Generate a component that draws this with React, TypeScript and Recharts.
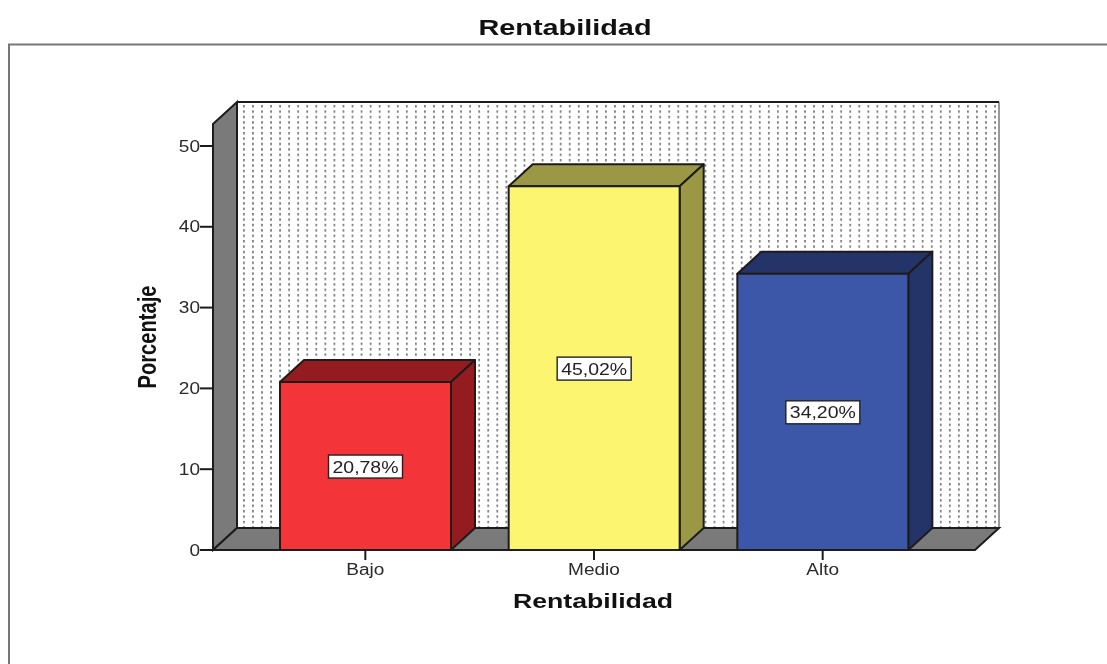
import React from "react";
import {
  BarChart,
  Bar,
  XAxis,
  YAxis,
  LabelList,
  Customized,
  usePlotArea,
} from "recharts";

const categories = ["Bajo", "Medio", "Alto"];
const percentages = [20.78, 45.02, 34.2];
const frontColors = ["#F33539", "#FBF56F", "#3C56A8"];
const sideColors = ["#941C20", "#9B9845", "#243468"];
const yTicks = [0, 10, 20, 30, 40, 50];

const data = categories.map((name, i) => ({
  name,
  value: percentages[i],
  front: frontColors[i],
  side: sideColors[i],
}));

// depth of the fake 3D box
const DX = 24;
const DY = 22;
const LINE = "#1c1c1c";
const FONT = "'Liberation Sans', Arial, sans-serif";
const STRETCH = 1.19; // the source image is stretched sideways

const Walls = () => {
  const plot = usePlotArea();
  if (!plot) return null;
  const left = plot.x;
  const right = plot.x + plot.width;
  const top = plot.y;
  const bottom = plot.y + plot.height;
  return (
    <g>
      <defs>
        <pattern id="dots" x="243" y="105" width="9.05" height="5.4" patternUnits="userSpaceOnUse">
          <rect x="0" y="0" width="1.8" height="2.4" fill="#808080" />
        </pattern>
      </defs>
      <path d="M9 664V44.5H1107" fill="none" stroke="#777" strokeWidth={2} />
      <rect x={left + DX} y={top - DY} width={right - left} height={bottom - top} fill="#fff" />
      <rect x={left + DX} y={top - DY} width={right - left} height={bottom - top} fill="url(#dots)" />
      <path
        d={`M${right + DX} ${top - DY}V${bottom - DY}`}
        stroke="#777"
        strokeWidth={1.5}
        fill="none"
      />
      <path
        d={`M${left} ${top}L${left + DX} ${top - DY}V${bottom - DY}L${left} ${bottom}Z`}
        fill="#7a7a7a"
        stroke={LINE}
        strokeWidth={2}
      />
      <path
        d={`M${left} ${bottom}L${left + DX} ${bottom - DY}H${right + DX}L${right} ${bottom}Z`}
        fill="#7a7a7a"
        stroke={LINE}
        strokeWidth={2}
      />
      <path d={`M${left + DX} ${top - DY}H${right + DX}`} stroke={LINE} strokeWidth={2} fill="none" />
    </g>
  );
};

const Box = (props: any) => {
  const { x, y, width, height, payload } = props;
  const r = x + width;
  const b = y + height;
  return (
    <g stroke={LINE} strokeWidth={2} strokeLinejoin="round">
      <path d={`M${x} ${y}L${x + DX} ${y - DY}H${r + DX}L${r} ${y}Z`} fill={payload.side} />
      <path d={`M${r} ${y}L${r + DX} ${y - DY}V${b - DY}L${r} ${b}Z`} fill={payload.side} />
      <rect x={x} y={y} width={width} height={height} fill={payload.front} />
    </g>
  );
};

const ValueTag = (props: any) => {
  const { x, y, width, height, value } = props;
  const cx = x + width / 2;
  const cy = y + height / 2 + 0.5;
  const text = value.toFixed(2).replace(".", ",") + "%";
  return (
    <g>
      <rect x={cx - 37} y={cy - 11.5} width={74} height={23} fill="#fff" stroke="#222" strokeWidth={1.4} />
      <text
        x={cx}
        y={cy + 6}
        textAnchor="middle"
        fontSize={17}
        fontFamily={FONT}
        fill="#222"
        textLength={66}
        lengthAdjust="spacingAndGlyphs"
      >
        {text}
      </text>
    </g>
  );
};

const StretchedTick = (props: any) => {
  const { x, y, payload, textAnchor } = props;
  return (
    <text
      transform={`translate(${x} ${y}) scale(${STRETCH} 1)`}
      textAnchor={textAnchor}
      dy="0.355em"
      fontSize={16}
      fontFamily={FONT}
      fill="#2a2a2a"
    >
      {payload.value}
    </text>
  );
};

const Titles = () => (
  <g fontFamily={FONT} fontWeight="bold" fill="#111">
    <text x={565} y={35} textAnchor="middle" fontSize={22} textLength={173} lengthAdjust="spacingAndGlyphs">
      Rentabilidad
    </text>
    <text x={593} y={608} textAnchor="middle" fontSize={20} textLength={160} lengthAdjust="spacingAndGlyphs">
      Rentabilidad
    </text>
    <text
      transform="translate(156 337) rotate(-90)"
      textAnchor="middle"
      fontSize={25}
      textLength={103}
      lengthAdjust="spacingAndGlyphs"
    >
      Porcentaje
    </text>
  </g>
);

export default function App() {
  return (
    <div style={{ position: "absolute", left: 0, top: 0, background: "#fff", filter: "blur(0.6px)" }}>
      <BarChart
        width={1107}
        height={664}
        data={data}
        margin={{ top: 124, right: 132, bottom: 64, left: 113 }}
        barSize={171}
      >
        <Customized component={Walls} />
        <XAxis
          dataKey="name"
          height={50}
          padding={{ left: 38, right: 38 }}
          tickSize={10}
          tickMargin={2}
          tickLine={{ stroke: LINE, strokeWidth: 2 }}
          axisLine={{ stroke: LINE, strokeWidth: 2 }}
          tick={(p: any) => <StretchedTick {...p} y={569} />}
        />
        <YAxis
          width={100}
          type="number"
          domain={[0, 52.72]}
          ticks={yTicks}
          allowDataOverflow
          tickSize={13}
          tickMargin={0}
          tickLine={{ stroke: LINE, strokeWidth: 2 }}
          axisLine={false}
          tick={StretchedTick}
        />
        <Bar dataKey="value" shape={Box} isAnimationActive={false}>
          <LabelList dataKey="value" content={ValueTag} />
        </Bar>
        <Customized component={Titles} />
      </BarChart>
    </div>
  );
}
